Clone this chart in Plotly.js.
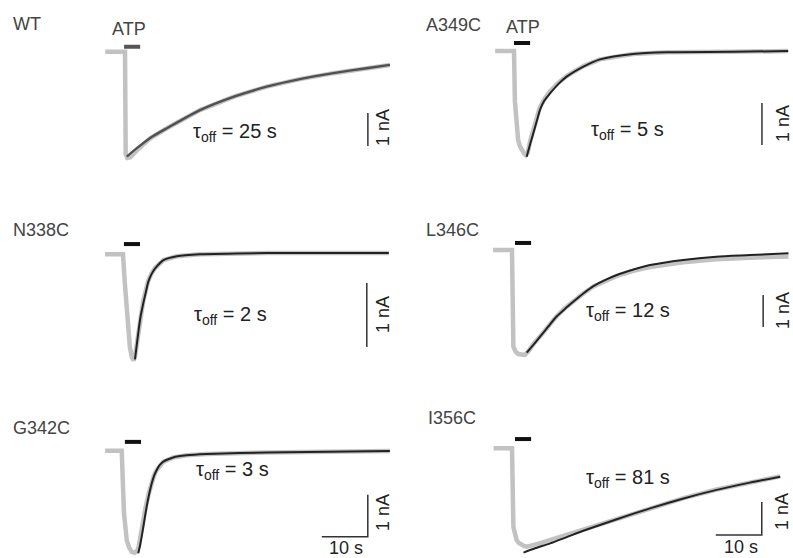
<!DOCTYPE html>
<html>
<head>
<meta charset="utf-8">
<script src="https://cdn.plot.ly/plotly-3.0.1.min.js"></script>
<style>
  html, body { margin: 0; padding: 0; background: #fff; }
  #chart { width: 793px; height: 558px; }
</style>
</head>
<body>
<div id="chart"></div>
<script>
// panel names and time constants of the off-response
var panelNames = ['WT', 'A349C', 'N338C', 'L346C', 'G342C', 'I356C'];
var tauOff = [25, 5, 2, 12, 3, 81];

// recorded currents (grey), time in s, current in nA
var wtRawT = [-4.3, 0, 0.15, 0.5, 1.2, 2.5, 5.4, 9.1, 16.3, 23.7, 30.8, 38.0, 45.3, 52.5, 57.6];
var wtRawI = [0, 0, -3.1, -3.22, -3.2, -3.0, -2.63, -2.32, -1.77, -1.36, -1.06, -0.83, -0.65, -0.50, -0.40];
var a349RawT = [-4.1, 0, 0.2, 0.6, 0.9, 1.3, 1.7, 2.2, 2.6, 3.0, 3.5, 4.2, 5.0, 5.6, 6.6, 7.8, 9.5, 11.4, 15.1, 18.7, 25.9, 33.2, 47.6, 59.6];
var a349RawI = [0, 0, -1.2, -1.85, -2.12, -2.27, -2.36, -2.44, -2.48, -2.42, -2.15, -1.86, -1.58, -1.35, -1.15, -0.96, -0.77, -0.6, -0.36, -0.2, -0.07, -0.03, -0.02, 0];
var n338RawT = [-3.9, 0, 0.4, 0.8, 1.15, 1.5, 1.9, 2.3, 2.6, 3.0, 3.3, 3.8, 4.4, 5.0, 5.5, 6.2, 7.0, 8.8, 11.7, 16.7, 31.2, 57.8];
var n338RawI = [0, 0, -0.45, -0.9, -1.23, -1.45, -1.6, -1.66, -1.6, -1.38, -1.2, -0.95, -0.73, -0.55, -0.41, -0.3, -0.21, -0.09, -0.03, 0, 0.02, 0.02];
var l346RawT = [-4.1, 0, 0.3, 0.8, 1.4, 2.1, 2.8, 3.6, 4.6, 6.1, 7.9, 9.7, 11.5, 13.3, 15.5, 17.7, 20.2, 22.8, 26.4, 30.0, 37.2, 44.4, 51.7, 60.1];
var l346RawI = [0, 0, -3.02, -3.18, -3.25, -3.28, -3.28, -3.16, -2.95, -2.7, -2.38, -2.07, -1.82, -1.6, -1.36, -1.14, -0.96, -0.81, -0.65, -0.53, -0.38, -0.29, -0.24, -0.2];
var g342RawT = [-3.6, 0, 0.5, 0.8, 1.1, 1.6, 2.2, 2.8, 3.3, 3.7, 4.1, 4.6, 5.2, 5.8, 6.3, 7.0, 7.5, 8.2, 9.0, 11.2, 14.1, 18.5, 31.5, 58.3];
var g342RawI = [0, 0, -1.49, -1.85, -2.13, -2.3, -2.41, -2.43, -2.4, -2.28, -2.0, -1.68, -1.35, -1.05, -0.82, -0.6, -0.48, -0.36, -0.27, -0.16, -0.11, -0.08, -0.04, -0.01];
var i356RawT = [-4.0, 0, 0.3, 0.6, 1.0, 1.5, 2.1, 2.6, 3.2, 4.0, 5.0, 6.5, 8.3, 11.9, 15.5, 22.8, 30.0, 37.3, 44.5, 51.7, 58.3];
var i356RawI = [0, 0, -2.38, -2.63, -2.78, -2.87, -2.93, -2.96, -2.98, -2.96, -2.92, -2.86, -2.78, -2.62, -2.47, -2.13, -1.81, -1.51, -1.25, -1.03, -0.85];

// exponential fits (dark)
var wtFitT = [0.4, 2.5, 5.4, 9.1, 16.3, 23.7, 30.8, 38.0, 45.3, 52.5, 57.6];
var wtFitI = [-3.18, -2.93, -2.62, -2.32, -1.77, -1.36, -1.06, -0.83, -0.65, -0.50, -0.40];
var a349FitT = [2.75, 3.5, 4.2, 5.0, 5.65, 6.6, 7.83, 9.5, 11.45, 15.1, 18.7, 25.9, 33.2, 47.6, 59.6];
var a349FitI = [-2.52, -2.22, -1.96, -1.65, -1.40, -1.18, -1.01, -0.8, -0.61, -0.37, -0.20, -0.07, -0.03, -0.02, 0];
var n338FitT = [2.6, 3.3, 3.8, 4.4, 5.0, 5.5, 6.2, 7.0, 8.8, 11.7, 16.7, 31.2, 57.8];
var n338FitI = [-1.64, -1.24, -0.98, -0.77, -0.58, -0.43, -0.31, -0.22, -0.09, -0.03, 0, 0.02, 0.02];
var l346FitT = [3.2, 4.6, 6.1, 7.9, 9.7, 11.5, 13.3, 15.5, 17.7, 20.2, 22.8, 26.4, 30.0, 37.2, 44.4, 51.7, 60.1];
var l346FitI = [-3.21, -2.97, -2.71, -2.39, -2.08, -1.84, -1.62, -1.36, -1.13, -0.94, -0.78, -0.61, -0.47, -0.31, -0.21, -0.16, -0.10];
var g342FitT = [3.6, 4.0, 4.35, 4.9, 5.43, 6.0, 6.52, 7.0, 7.61, 8.2, 9.04, 11.2, 14.1, 18.5, 31.5, 58.3];
var g342FitI = [-2.44, -2.25, -2.04, -1.68, -1.33, -1.02, -0.78, -0.61, -0.46, -0.35, -0.26, -0.16, -0.11, -0.08, -0.04, -0.01];
var i356FitT = [2.5, 5.0, 8.3, 11.9, 15.5, 22.8, 30.0, 37.3, 44.5, 51.7, 58.3];
var i356FitI = [-3.16, -3.03, -2.88, -2.69, -2.50, -2.15, -1.82, -1.52, -1.26, -1.04, -0.86];

// ATP application (s) and scale bars
var atpStart = [-0.2, 0, 0.2, 0.65, 0.7, 0.65];
var atpDuration = 3.5;
var scaleNA = 1;
var scaleS = 10;

var rawT = [wtRawT, a349RawT, n338RawT, l346RawT, g342RawT, i356RawT];
var rawI = [wtRawI, a349RawI, n338RawI, l346RawI, g342RawI, i356RawI];
var fitT = [wtFitT, a349FitT, n338FitT, l346FitT, g342FitT, i356FitT];
var fitI = [wtFitI, a349FitI, n338FitI, l346FitI, g342FitI, i356FitI];

// page geometry in pixels: t=0 pixel, baseline pixel, px per nA, box [l, r, t, b]
var W = 793, H = 558, pxPerS = 4.6;
var geo = [
  {x0: 125,   yb: 51.7,  k: 33, box: [95, 395, 35, 170],   sbT: 52.8, sbI: -1.86, atpY: 0.15, hbar: false},
  {x0: 514,   yb: 51,    k: 42, box: [485, 793, 35, 170],  sbT: 53.9, sbI: -1.24, atpY: 0.19, hbar: false},
  {x0: 123,   yb: 254.3, k: 64, box: [95, 395, 235, 370],  sbT: 53.0, sbI: -0.45, atpY: 0.16, hbar: false},
  {x0: 512,   yb: 250,   k: 32, box: [485, 793, 235, 370], sbT: 54.6, sbI: -1.41, atpY: 0.22, hbar: false},
  {x0: 121.7, yb: 450.7, k: 42, box: [95, 395, 430, 558],  sbT: 53.5, sbI: -1.05, atpY: 0.21, hbar: true},
  {x0: 512,   yb: 448.3, k: 33, box: [485, 793, 430, 558], sbT: 54.3, sbI: -1.63, atpY: 0.28, hbar: true}
];

var labelPos = [[11, 24], [424, 25], [11, 230], [424, 230], [11, 428], [426, 418]];
var tauPos = [[191, 132], [589, 130], [192, 315], [584, 312], [194, 470], [584, 478]];
var nAPos = [[383, 128], [783, 124], [383, 315], [783, 311], [383, 513], [782, 512]];

function px(x) { return x / W; }
function py(y) { return 1 - y / H; }

var textCol = '#444';
var fnt = 'Liberation Sans, Arial, sans-serif';

var data = [];
var layout = {
  width: W, height: H,
  margin: {l: 0, r: 0, t: 0, b: 0},
  paper_bgcolor: '#fff', plot_bgcolor: 'rgba(0,0,0,0)',
  showlegend: false,
  annotations: []
};

function note(x, y, text, size, color, angle) {
  layout.annotations.push({
    xref: 'paper', yref: 'paper', x: px(x), y: py(y),
    xanchor: 'center', yanchor: 'middle', showarrow: false,
    textangle: angle || 0, text: text,
    font: {family: fnt, size: size, color: color}
  });
}

for (var i = 0; i < 6; i++) {
  var g = geo[i];
  var sfx = i === 0 ? '' : String(i + 1);
  var xa = 'x' + sfx, ya = 'y' + sfx;
  var b = g.box;
  layout['xaxis' + sfx] = {
    domain: [px(b[0]), px(b[1])],
    range: [(b[0] - g.x0) / pxPerS, (b[1] - g.x0) / pxPerS],
    anchor: ya, visible: false, fixedrange: true
  };
  layout['yaxis' + sfx] = {
    domain: [py(b[3]), py(b[2])],
    range: [-(b[3] - g.yb) / g.k, (g.yb - b[2]) / g.k],
    anchor: xa, visible: false, fixedrange: true
  };

  // grey recording
  data.push({
    x: rawT[i], y: rawI[i], xaxis: xa, yaxis: ya, mode: 'lines',
    line: {color: '#c2c2c2', width: 4.5, shape: 'linear'},
    hoverinfo: 'skip'
  });
  // fit
  data.push({
    x: fitT[i], y: fitI[i], xaxis: xa, yaxis: ya, mode: 'lines',
    line: {color: i === 0 ? '#505050' : '#222', width: i === 0 ? 2.4 : 2, shape: 'spline', smoothing: 0.7},
    hoverinfo: 'skip'
  });
  // ATP bar
  data.push({
    x: [atpStart[i], atpStart[i] + atpDuration], y: [g.atpY, g.atpY], xaxis: xa, yaxis: ya,
    mode: 'lines', line: {color: i === 0 ? '#555' : '#111', width: 4}, hoverinfo: 'skip'
  });
  // scale bars
  var sx = [g.sbT, g.sbT], sy = [g.sbI, g.sbI - scaleNA];
  if (g.hbar) {
    sx = [g.sbT, g.sbT, g.sbT - scaleS];
    sy = [g.sbI, g.sbI - scaleNA, g.sbI - scaleNA];
  }
  data.push({
    x: sx, y: sy, xaxis: xa, yaxis: ya, mode: 'lines',
    line: {color: '#333', width: 1.5}, hoverinfo: 'skip'
  });

  layout.annotations.push({
    xref: 'paper', yref: 'paper', x: px(labelPos[i][0]), y: py(labelPos[i][1]),
    xanchor: 'left', yanchor: 'middle', showarrow: false,
    text: panelNames[i], font: {family: fnt, size: 18, color: textCol}
  });
  layout.annotations.push({
    xref: 'paper', yref: 'paper', x: px(tauPos[i][0]), y: py(tauPos[i][1]),
    xanchor: 'left', yanchor: 'middle', showarrow: false,
    text: '\u03c4<sub>off</sub> = ' + tauOff[i] + ' s', font: {family: fnt, size: 20, color: '#222'}
  });
  note(nAPos[i][0], nAPos[i][1], scaleNA + ' nA', 18, '#222', -90);
}

note(129, 29, 'ATP', 18, textCol);
note(523, 27, 'ATP', 18, textCol);
note(346, 548, scaleS + ' s', 18, '#222');
note(741, 547, scaleS + ' s', 18, '#222');

Plotly.newPlot('chart', data, layout, {displayModeBar: false, staticPlot: true});
</script>
</body>
</html>
